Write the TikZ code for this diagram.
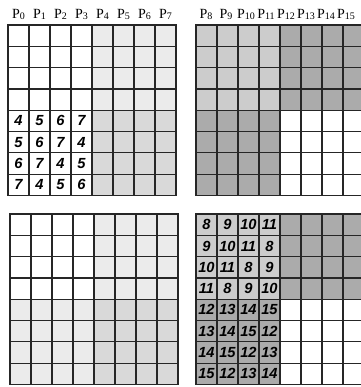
\documentclass[tikz,border=0pt]{standalone}
\usepackage{fontspec}
\setmainfont{Liberation Serif}
\setsansfont{Liberation Sans}
\definecolor{qpale}{gray}{0.92}
\definecolor{qlite}{gray}{0.85}
\definecolor{qmid}{gray}{0.80}
\definecolor{qdark}{gray}{0.67}
\tikzset{
  gline/.style  = {draw=black!85, line width=0.9pt, line cap=rect},
  plabel/.style = {font=\fontsize{10.5}{10.5}\selectfont, inner sep=0pt},
  cnum/.style   = {font=\sffamily\bfseries\itshape\fontsize{11}{11}\selectfont, inner sep=0pt},
}
\newcommand{\cw}{21}
\newcommand{\ch}{21.3}
\newcommand{\pl}[1]{P\raisebox{-0.8pt}{\fontsize{7.5}{7.5}\selectfont #1}}
% \qgrid{x}{y}{top-left}{top-right}{bottom-left}{bottom-right}
\newcommand{\qgrid}[6]{%
  \fill[#3] (#1,#2) rectangle ++(4*\cw,4*\ch);
  \fill[#4] ({#1+4*\cw},#2) rectangle ++(4*\cw,4*\ch);
  \fill[#5] (#1,{#2+4*\ch}) rectangle ++(4*\cw,4*\ch);
  \fill[#6] ({#1+4*\cw},{#2+4*\ch}) rectangle ++(4*\cw,4*\ch);
  \foreach \k in {0,...,8} {%
    \draw[gline] ({#1+\k*\cw},#2) -- ++(0,8*\ch);
    \draw[gline] (#1,{#2+\k*\ch}) -- ++(8*\cw,0);
  }%
}

\begin{document}
\begin{tikzpicture}[x=0.75pt, y=-0.75pt]
  \useasboundingbox (0,0) rectangle (361,387);
  \fill[white] (0,0) rectangle (361,387);

  % top row of grids
  \qgrid{8}{25}{white}{qpale}{white}{qlite}
  \qgrid{196}{25}{qmid}{qdark}{qdark}{white}

  % bottom row of grids
  \qgrid{10}{214}{white}{qpale}{qpale}{qlite}
  \qgrid{196}{214}{qmid}{qdark}{qdark}{white}

  % processor labels
  \foreach \k in {0,...,7} {
    \node[plabel] (p\k) at ({18.5+\k*\cw},14) {\pl{\k}};
  }
  \foreach \k [evaluate=\k as \j using int(\k+8)] in {0,...,7} {
    \node[plabel] (p\j) at ({206+\k*20},14) {\pl{\j}};
  }

  % numbers, top left
  \foreach \r in {0,...,3} {
    \foreach \c in {0,...,3} {
      \pgfmathtruncatemacro\v{4+mod(\r+\c,4)}
      \node[cnum] (a-\r-\c) at ({8+(\c+0.5)*\cw},{25+(\r+4.5)*\ch}) {\v};
    }
  }

  % numbers, bottom right
  \foreach \r in {0,...,3} {
    \foreach \c in {0,...,3} {
      \pgfmathtruncatemacro\v{8+mod(\r+\c,4)}
      \pgfmathtruncatemacro\w{12+mod(\r+\c,4)}
      \node[cnum] (b-\r-\c) at ({196+(\c+0.5)*\cw},{214+(\r+0.5)*\ch}) {\v};
      \node[cnum] (c-\r-\c) at ({196+(\c+0.5)*\cw},{214+(\r+4.5)*\ch}) {\w};
    }
  }
\end{tikzpicture}
\end{document}
